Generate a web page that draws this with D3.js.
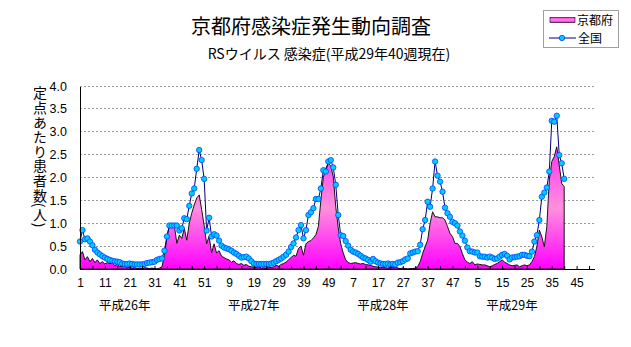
<!DOCTYPE html>
<html><head><meta charset="utf-8">
<script src="https://cdn.jsdelivr.net/npm/d3@7/dist/d3.min.js"></script>
<style>
html,body{margin:0;padding:0;background:#fff;}
svg{display:block;}
text{font-family:"Noto Sans CJK JP","Noto Sans",sans-serif;fill:#000;}
.num text, text.num{font-family:"Liberation Sans Narrow","Liberation Sans",sans-serif;}
</style></head><body>
<svg id="c" width="631" height="347"></svg>
<script>
const titleText = "京都府感染症発生動向調査";
const subtitleText = "RSウイルス 感染症(平成29年40週現在)";
const yAxisTitle = "定点あたり患者数(人)";
const seriesNames = ["京都府","全国"];
const yearLabels = ["平成26年","平成27年","平成28年","平成29年"];
const weeksPerYear = [52,52,52,52];
const tickLabels = ["1","11","21","31","41","51","9","19","29","39","49","7","17","27","37","47","5","15","25","35","45"];
const yTicks = [0,0.5,1.0,1.5,2.0,2.5,3.0,3.5,4.0];

// 京都府 (area)
const kyoto = [
 0.31,0.38,0.20,0.27,0.16,0.23,0.14,0.20,0.12,0.16,
 0.11,0.14,0.12,0.13,0.08,0.10,0.06,0.05,0.07,0.03,
 0.04,0.02,0.03,0.01,0.02,0.01,0.03,0.02,0.01,0.02,
 0.01,0.00,0.02,0.05,0.30,0.70,0.95,0.97,0.95,0.56,
 0.74,0.67,0.89,0.63,1.00,1.22,1.40,1.55,1.62,1.30,
 0.95,0.55,
 0.72,0.35,0.55,0.35,0.40,0.28,0.25,0.22,0.20,0.15,
 0.18,0.12,0.10,0.12,0.08,0.10,0.06,0.05,0.04,0.03,
 0.05,0.02,0.03,0.02,0.04,0.03,0.05,0.08,0.06,0.10,
 0.12,0.15,0.20,0.25,0.30,0.28,0.45,0.50,0.30,0.55,
 0.60,0.62,0.68,0.75,0.93,1.50,2.00,2.20,2.31,2.25,
 2.02,1.36,
 0.90,0.55,0.35,0.20,0.14,0.12,0.13,0.14,0.12,0.11,
 0.12,0.10,0.09,0.08,0.06,0.05,0.04,0.03,0.04,0.03,
 0.02,0.04,0.03,0.05,0.02,0.01,0.02,0.01,0.00,0.01,
 0.01,0.02,0.05,0.16,0.34,0.49,0.63,1.00,1.25,1.14,
 1.14,1.12,1.12,1.07,0.93,0.78,0.71,0.56,0.56,0.49,
 0.34,0.20,
 0.15,0.12,0.16,0.09,0.11,0.10,0.09,0.09,0.07,0.05,
 0.07,0.10,0.12,0.16,0.20,0.15,0.12,0.09,0.07,0.08,
 0.09,0.05,0.07,0.09,0.07,0.09,0.16,0.27,0.49,0.85,
 0.70,0.49,0.93,1.95,2.35,2.46,2.67,2.27,1.87,1.80
];
// 全国 (line)
const national = [
 0.60,0.85,0.65,0.67,0.60,0.52,0.42,0.36,0.32,0.28,
 0.25,0.22,0.20,0.18,0.17,0.16,0.15,0.12,0.11,0.11,
 0.12,0.11,0.10,0.10,0.10,0.10,0.11,0.13,0.14,0.15,
 0.16,0.20,0.22,0.23,0.40,0.71,0.95,0.95,0.95,0.95,
 0.84,0.89,1.11,1.09,1.38,1.65,1.76,2.19,2.60,2.38,
 1.97,0.84,
 1.12,0.71,0.76,0.73,0.62,0.51,0.47,0.45,0.43,0.40,
 0.36,0.33,0.29,0.25,0.26,0.27,0.23,0.17,0.12,0.11,
 0.11,0.11,0.11,0.11,0.11,0.12,0.14,0.17,0.20,0.23,
 0.27,0.31,0.38,0.48,0.56,0.69,0.85,0.96,0.67,0.85,
 1.18,1.24,1.33,1.53,1.53,1.76,2.16,2.13,2.35,2.38,
 2.22,1.84,
 1.18,0.74,0.72,0.61,0.51,0.42,0.38,0.36,0.33,0.29,
 0.25,0.23,0.20,0.16,0.22,0.17,0.14,0.12,0.11,0.11,
 0.12,0.10,0.11,0.10,0.14,0.15,0.17,0.21,0.23,0.34,
 0.36,0.38,0.39,0.53,0.87,1.07,1.47,1.36,1.76,2.35,
 2.04,1.91,1.69,1.34,1.22,1.14,1.03,1.00,0.95,0.82,
 0.73,0.62,
 0.47,0.39,0.38,0.36,0.36,0.28,0.27,0.27,0.25,0.27,
 0.25,0.22,0.23,0.27,0.31,0.33,0.29,0.21,0.25,0.26,
 0.27,0.28,0.31,0.31,0.29,0.28,0.38,0.60,0.74,1.07,
 1.58,1.67,1.78,2.13,3.24,3.22,3.35,2.49,2.31,1.97
];

// categories: "year-week"
const categories = [];
weeksPerYear.forEach((n, yi) => { for (let w = 1; w <= n; w++) categories.push(yi + "-" + w); });

const svg = d3.select("#c");
const x = d3.scalePoint().domain(categories).range([80, 594]);
const y = d3.scaleLinear().domain([0, 4]).range([269, 86]);

// defs gradient
const defs = svg.append("defs");
const g1 = defs.append("linearGradient").attr("id","pinkGrad").attr("x1",0).attr("y1",0).attr("x2",0).attr("y2",1);
g1.append("stop").attr("offset","0%").attr("stop-color","#FF33EE");
g1.append("stop").attr("offset","50%").attr("stop-color","#FF90DD");
g1.append("stop").attr("offset","100%").attr("stop-color","#FF00FF");

// gridlines
svg.append("g").selectAll("line").data(yTicks.filter(d => d > 0)).join("line")
  .attr("x1", 80).attr("x2", 594).attr("y1", d => y(d)).attr("y2", d => y(d))
  .attr("stroke", "#999").attr("stroke-width", 1).attr("stroke-dasharray", "2,2")
  .attr("shape-rendering","crispEdges");

// area
const area = d3.area().x((d, i) => x(categories[i])).y0(y(0)).y1(d => y(d));
svg.append("path").datum(kyoto).attr("d", area)
  .attr("fill", "url(#pinkGrad)").attr("stroke", "#000").attr("stroke-width", 0.9);

// national line
const line = d3.line().x((d, i) => x(categories[i])).y(d => y(d));
svg.append("path").datum(national).attr("d", line)
  .attr("fill", "none").attr("stroke", "#000080").attr("stroke-width", 1);
svg.append("g").selectAll("circle").data(national).join("circle")
  .attr("cx", (d, i) => x(categories[i])).attr("cy", d => y(d)).attr("r", 2.7)
  .attr("fill", "#00CCFF").attr("stroke", "#0044FF").attr("stroke-width", 0.8);

// x axis
const tickCats = categories.filter((c, i) => i % 5 === 0);
const xAxis = d3.axisBottom(x).tickValues(tickCats).tickSizeInner(-3).tickSizeOuter(0).tickPadding(9)
  .tickFormat(c => { const i = categories.indexOf(c); return i % 10 === 0 ? tickLabels[i / 10] : ""; });
const gx = svg.append("g").attr("class","num").attr("transform", "translate(0,269)").call(xAxis);
gx.select(".domain").attr("stroke", "#000").attr("shape-rendering","crispEdges");
gx.selectAll(".tick line").attr("stroke", "#000");
gx.selectAll("text").attr("font-size", 12).attr("fill","#000");

// y axis
const yAxis = d3.axisLeft(y).tickValues(yTicks).tickSize(0).tickPadding(13).tickFormat(d3.format(".1f"));
const gy = svg.append("g").attr("class","num").attr("transform", "translate(80,0)").call(yAxis);
gy.select(".domain").attr("stroke", "#000").attr("shape-rendering","crispEdges");
gy.selectAll("text").attr("font-size", 12.5).attr("fill","#000");

// year labels
svg.append("g").selectAll("text").data(yearLabels).join("text")
  .attr("x", (d, i) => x(i + "-19")).attr("y", 310).attr("text-anchor", "middle")
  .attr("font-size", 12.5).text(d => d);

// titles
svg.append("text").attr("x", 311).attr("y", 34).attr("text-anchor", "middle")
  .attr("font-size", 20).text(titleText);
svg.append("text").attr("x", 329).attr("y", 59).attr("text-anchor", "middle")
  .attr("font-size", 14).text(subtitleText);

// y axis title (vertical)
svg.append("text").attr("x", 40).attr("y", 86)
  .style("writing-mode", "vertical-rl")
  .attr("font-size", 14).attr("letter-spacing", 0.6).text(yAxisTitle);

// legend
const lg = svg.append("g");
lg.append("rect").attr("x", 543.5).attr("y", 10.5).attr("width", 75).attr("height", 37)
  .attr("fill", "#fff").attr("stroke", "#A0A0A0");
lg.append("rect").attr("x", 550).attr("y", 17.5).attr("width", 25).attr("height", 5)
  .attr("fill", "url(#pinkGrad)").attr("stroke", "#000").attr("stroke-width", 0.6);
lg.append("text").attr("x", 577).attr("y", 24.5).attr("font-size", 12).text(seriesNames[0]);
lg.append("line").attr("x1", 549).attr("x2", 576).attr("y1", 38).attr("y2", 38)
  .attr("stroke", "#000080").attr("stroke-width", 1);
lg.append("circle").attr("cx", 562).attr("cy", 38).attr("r", 2.7)
  .attr("fill", "#00CCFF").attr("stroke", "#0044FF").attr("stroke-width", 0.8);
lg.append("text").attr("x", 578).attr("y", 42.5).attr("font-size", 12).text(seriesNames[1]);
</script>
</body></html>
